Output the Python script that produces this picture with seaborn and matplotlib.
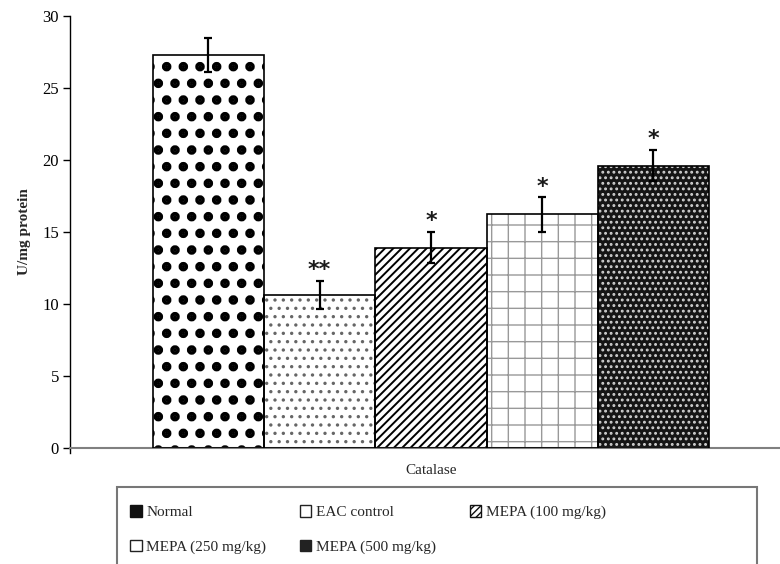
import numpy as np
import pandas as pd
import seaborn as sns
import matplotlib.pyplot as plt
from matplotlib.patches import Rectangle, Patch

category = "Catalase"
groups = ["Normal", "EAC control", "MEPA (100 mg/kg)", "MEPA (250 mg/kg)", "MEPA (500 mg/kg)"]
values = [27.3, 10.6, 13.9, 16.2, 19.6]
errors = [1.2, 1.0, 1.1, 1.2, 1.1]
marks = ["", "**", "*", "*", "*"]
yticks = [0, 5, 10, 15, 20, 25, 30]

sns.set_theme(style="white")
plt.rcParams['font.family'] = ['Liberation Serif', 'DejaVu Serif']

fig = plt.figure(figsize=(7.8, 5.64), dpi=100)
ax = fig.add_axes([70/780, 1-447.5/564, 710/780, (447.5-16)/564])

df = pd.DataFrame({"cat": [category]*len(groups), "group": groups, "val": values})
sns.barplot(data=df, x="cat", y="val", hue="group", hue_order=groups, ax=ax,
            errorbar=None, palette=['white']*len(groups), legend=False,
            width=0.8, dodge=True, saturation=1)

styles = [
    dict(face='white', hatch='.', hc='black', hlw=4.4),
    dict(face='white', hatch='..', hc='#666666', hlw=1.2),
    dict(face='white', hatch='////', hc='black', hlw=1.4),
    dict(face='white', hatch='+', hc='#999999', hlw=1.0),
    dict(face='#151515', hatch='...', hc='#d0d0d0', hlw=1.3),
]

bars = sorted([p for p in ax.patches if isinstance(p, Rectangle)], key=lambda p: p.get_x())
xs = []
for p, st in zip(bars, styles):
    p.set_facecolor(st['face'])
    p.set_hatch(st['hatch'])
    p.set_edgecolor(st['hc'])
    p.set_linewidth(0)
    if hasattr(p, 'set_hatch_linewidth'):
        p.set_hatch_linewidth(st['hlw'])
    ax.add_patch(Rectangle((p.get_x(), p.get_y()), p.get_width(), p.get_height(),
                           fill=False, edgecolor='black', lw=1.2, zorder=3))
    xs.append(p.get_x() + p.get_width()/2)

ax.errorbar(xs, values, yerr=errors, fmt='none', ecolor='black', capsize=3,
            elinewidth=1.6, capthick=1.6, zorder=5)
for x, v, e, m in zip(xs, values, errors, marks):
    if m:
        ax.text(x, v + e + 0.05, m, ha='center', va='bottom', fontsize=16,
                fontweight='bold', family='DejaVu Sans', color='#1a1a1a')

ax.set_xlim(-0.519, 0.502)
ax.set_ylim(0, 30)
ax.set_yticks(yticks)
ax.set_yticklabels([str(t) for t in yticks], fontsize=12)
ax.set_xticks([0])
ax.set_xticklabels([category], fontsize=11)
ax.tick_params(axis='x', length=0, pad=12)
ax.tick_params(axis='y', length=5, width=1, direction='out', left=True, pad=3, colors='black')
ax.set_xlabel("")
ax.set_ylabel("U/mg protein", fontsize=11, fontweight='bold', labelpad=8)
for s in ['top', 'right']:
    ax.spines[s].set_visible(False)
ax.spines['left'].set_color('black')
ax.spines['left'].set_linewidth(1.0)
ax.spines['left'].set_bounds(-0.35, 30)
ax.spines['bottom'].set_color('#808080')
ax.spines['bottom'].set_linewidth(1.5)

legend_styles = [
    dict(facecolor='#111111', edgecolor='#111111'),
    dict(facecolor='white', edgecolor='#222222'),
    dict(facecolor='white', edgecolor='#111111', hatch='/////'),
    dict(facecolor='white', edgecolor='#222222'),
    dict(facecolor='#222222', edgecolor='#222222'),
]
handles = [Patch(label=g, **ls) for g, ls in zip(groups, legend_styles)]
order = [0, 3, 1, 4, 2]
leg = fig.legend([handles[i] for i in order], [groups[i] for i in order], ncol=3,
                 loc='upper left', bbox_to_anchor=(112/780, 1-487/564),
                 bbox_transform=fig.transFigure, frameon=False,
                 fontsize=11, labelspacing=1.35, columnspacing=2.2,
                 handlelength=0.75, handleheight=0.75, handletextpad=0.3,
                 borderpad=1.2, borderaxespad=0)
fig.add_artist(Rectangle((117/780, -0.05), (757-117)/780, 1-487/564+0.05,
                         transform=fig.transFigure, fill=False,
                         edgecolor='#777777', lw=1.5))

fig.savefig("out.png", dpi=100)
